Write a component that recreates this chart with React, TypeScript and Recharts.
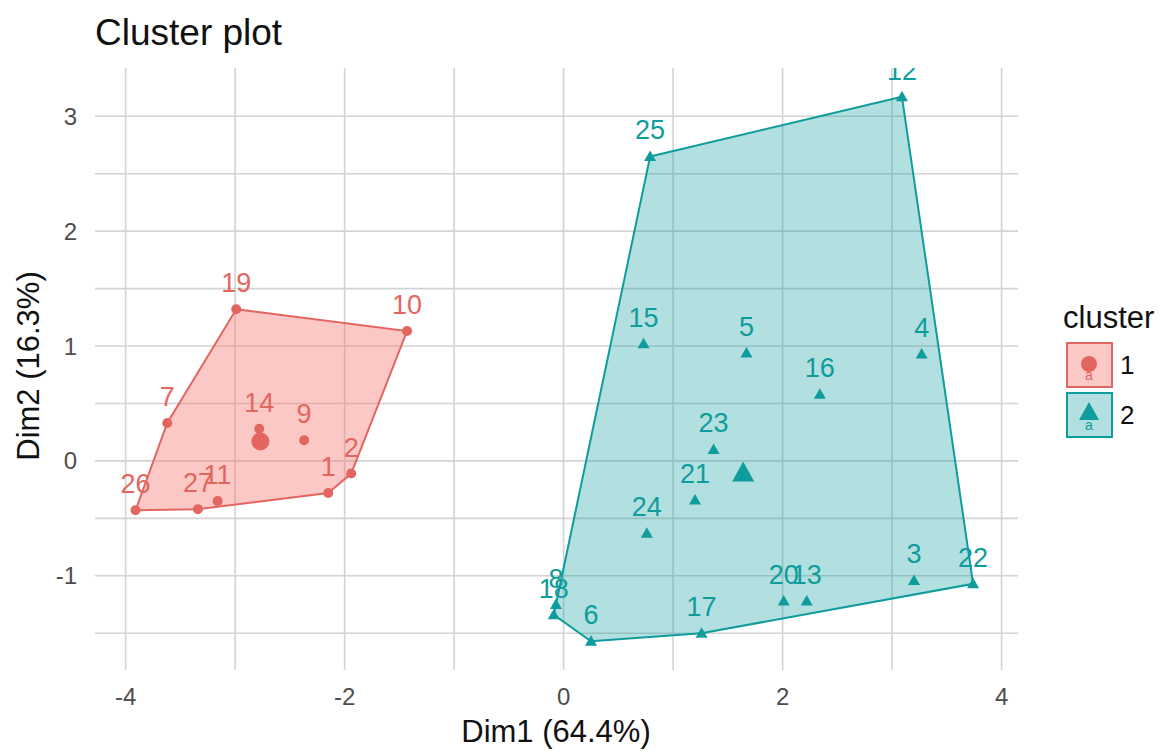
import React from 'react'
import { ScatterChart, Scatter, XAxis, YAxis, CartesianGrid } from 'recharts'

// cluster 1 (red)
const names1 = ['1', '2', '7', '9', '10', '11', '14', '19', '26', '27']
const dim1c1 = [-2.15, -1.94, -3.62, -2.37, -1.43, -3.16, -2.78, -2.99, -3.91, -3.34]
const dim2c1 = [-0.28, -0.11, 0.33, 0.18, 1.13, -0.35, 0.28, 1.32, -0.43, -0.42]
const hull1 = ['19', '10', '2', '1', '27', '26', '7']
const center1 = { x: -2.77, y: 0.17 }

// cluster 2 (teal)
const names2 = ['3', '4', '5', '6', '8', '12', '13', '15', '16', '17', '18', '20', '21', '22', '23', '24', '25']
const dim1c2 = [3.2, 3.27, 1.67, 0.25, -0.07, 3.09, 2.22, 0.73, 2.34, 1.26, -0.09, 2.01, 1.2, 3.74, 1.37, 0.76, 0.79]
const dim2c2 = [-1.04, 0.93, 0.94, -1.57, -1.25, 3.17, -1.22, 1.02, 0.58, -1.5, -1.34, -1.22, -0.34, -1.07, 0.1, -0.63, 2.65]
const hull2 = ['25', '12', '22', '17', '6', '18', '8']
const center2 = { x: 1.64, y: -0.11 }

const xTicks = [-4, -3, -2, -1, 0, 1, 2, 3, 4]
const yTicks = [-1.5, -1, -0.5, 0, 0.5, 1, 1.5, 2, 2.5, 3]

const RED = '#E2665F'
const RED_FILL = '#F8766D'
const TEAL = '#0F9C9C'
const FONT = '"Liberation Sans", Arial, sans-serif'

type Pt = { name: string; x: number; y: number }

const toPoints = (names: string[], xs: number[], ys: number[]): Pt[] =>
  names.map((n, i) => ({ name: n, x: xs[i], y: ys[i] }))

const pts1 = toPoints(names1, dim1c1, dim2c1)
const pts2 = toPoints(names2, dim1c2, dim2c2)
const hullPts1 = hull1.map(n => pts1.find(p => p.name === n)!)
const hullPts2 = hull2.map(n => pts2.find(p => p.name === n)!)

const labelStyle = { fontFamily: FONT, fontSize: 27 }

const circleShape = (props: any) => {
  const { cx, cy, payload } = props
  return (
    <g>
      <circle cx={cx} cy={cy} r={5} fill={RED} />
      <text x={cx} y={cy - 17} textAnchor="middle" fill={RED} style={labelStyle}>
        {payload.name}
      </text>
    </g>
  )
}

const triangleShape = (props: any) => {
  const { cx, cy, payload } = props
  return (
    <g>
      <path d={`M${cx},${cy - 6}L${cx + 6},${cy + 4.5}L${cx - 6},${cy + 4.5}Z`} fill={TEAL} />
      <text x={cx} y={cy - 17} textAnchor="middle" fill={TEAL} style={labelStyle}>
        {payload.name}
      </text>
    </g>
  )
}

const bigCircle = (props: any) => <circle cx={props.cx} cy={props.cy} r={9} fill={RED} />
const bigTriangle = (props: any) => {
  const { cx, cy } = props
  return <path d={`M${cx},${cy - 12}L${cx + 11},${cy + 8}L${cx - 11},${cy + 8}Z`} fill={TEAL} />
}

const hullLine = (stroke: string, fill: string, opacity: number) => (props: any) => {
  const p = props.points as { x: number; y: number }[]
  const d = p.map((pt, i) => `${i ? 'L' : 'M'}${pt.x},${pt.y}`).join('') + 'Z'
  return <path d={d} fill={fill} fillOpacity={opacity} stroke={stroke} strokeWidth={2} />
}

const emptyShape = () => <g />

export default function App() {
  return (
    <div style={{ position: 'absolute', left: 0, top: 0, width: 1161, height: 753, background: '#fff' }}>
      <ScatterChart width={1161} height={753} margin={{ top: 68, right: 143, left: 0, bottom: 0 }}>
        <CartesianGrid stroke="#D3D3D3" strokeWidth={1.6} syncWithTicks />
        <XAxis
          type="number"
          dataKey="x"
          domain={[-4.28, 4.15]}
          ticks={xTicks}
          allowDataOverflow
          height={83}
          axisLine={false}
          tickLine={false}
          tickSize={0}
          tickMargin={18}
          tickFormatter={(v: number) => (v % 2 === 0 ? String(v) : '')}
          tick={{ fill: '#4D4D4D', fontSize: 24, fontFamily: FONT }}
        />
        <YAxis
          type="number"
          dataKey="y"
          domain={[-1.82, 3.42]}
          ticks={yTicks}
          allowDataOverflow
          width={95}
          axisLine={false}
          tickLine={false}
          tickSize={0}
          tickMargin={18}
          tickFormatter={(v: number) => (Number.isInteger(v) ? String(v) : '')}
          tick={{ fill: '#4D4D4D', fontSize: 24, fontFamily: FONT }}
        />
        <Scatter data={hullPts1} shape={emptyShape} line={hullLine(RED, RED_FILL, 0.4)} isAnimationActive={false} />
        <Scatter data={hullPts2} shape={emptyShape} line={hullLine(TEAL, TEAL, 0.32)} isAnimationActive={false} />
        <Scatter data={pts1} shape={circleShape} isAnimationActive={false} />
        <Scatter data={pts2} shape={triangleShape} isAnimationActive={false} />
        <Scatter data={[center1]} shape={bigCircle} isAnimationActive={false} />
        <Scatter data={[center2]} shape={bigTriangle} isAnimationActive={false} />
      </ScatterChart>
      <svg width={1161} height={753} style={{ position: 'absolute', left: 0, top: 0, pointerEvents: 'none' }}>
        <text x={95} y={45} fontSize={37} fontFamily={FONT} fill="#111">Cluster plot</text>
        <text x={556} y={742} fontSize={31} fontFamily={FONT} fill="#111" textAnchor="middle">Dim1 (64.4%)</text>
        <text x={39} y={366} fontSize={31} fontFamily={FONT} fill="#111" textAnchor="middle" transform="rotate(-90 39 366)">
          Dim2 (16.3%)
        </text>
        <text x={1063} y={328} fontSize={31} fontFamily={FONT} fill="#111">cluster</text>
        <rect x={1067} y={343} width={45} height={44} fill={RED_FILL} fillOpacity={0.4} stroke={RED} strokeWidth={2} />
        <text x={1089} y={380} fontSize={14} fontFamily={FONT} fill={RED} textAnchor="middle">a</text>
        <circle cx={1089} cy={364} r={8} fill={RED} />
        <text x={1120} y={374} fontSize={26} fontFamily={FONT} fill="#111">1</text>
        <rect x={1067} y={393} width={45} height={44} fill={TEAL} fillOpacity={0.32} stroke={TEAL} strokeWidth={2} />
        <text x={1089} y={430} fontSize={14} fontFamily={FONT} fill={TEAL} textAnchor="middle">a</text>
        <path d="M1089,402L1099,420L1079,420Z" fill={TEAL} />
        <text x={1120} y={424} fontSize={26} fontFamily={FONT} fill="#111">2</text>
      </svg>
    </div>
  )
}
